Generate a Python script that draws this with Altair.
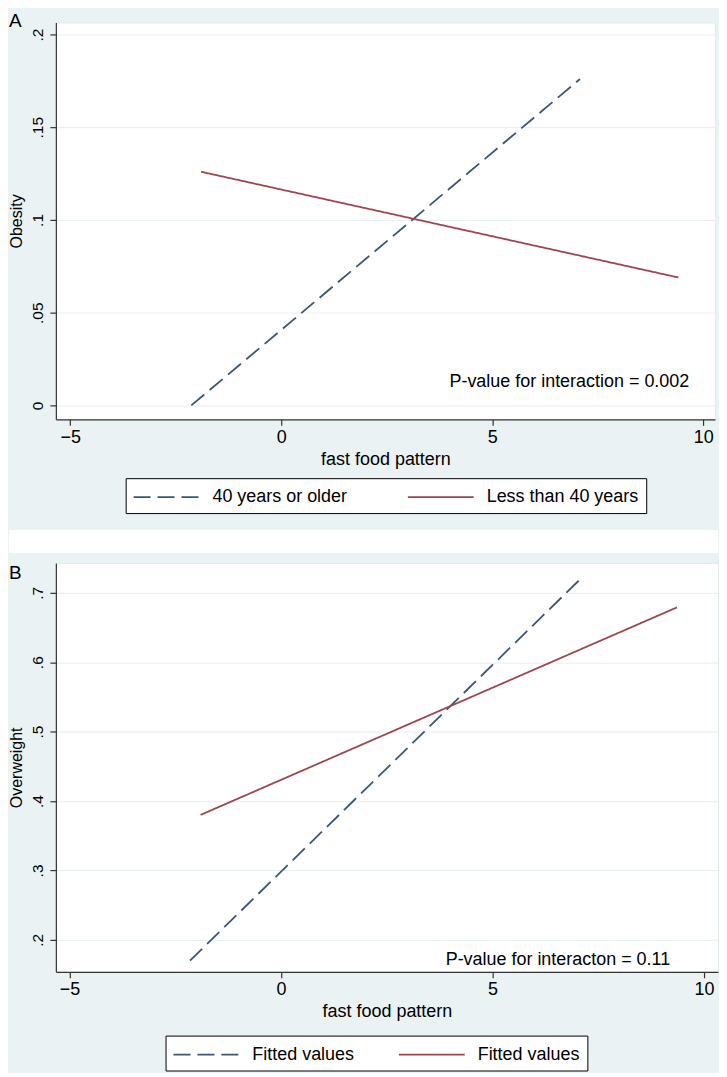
import altair as alt
import pandas as pd

FONT = "Liberation Sans"
BG = "#eaf2f3"
NAVY = "#3c5672"
MAROON = "#9b474d"
FS = 18

x_ticks = [-5, 0, 5, 10]

# Panel A (Obesity)
a_keys = ["40 years or older", "Less than 40 years"]
a_group = ["40 years or older", "40 years or older", "Less than 40 years", "Less than 40 years"]
a_x = [-2.13, 7.08, -1.9, 9.41]
a_y = [0.0, 0.176, 0.126, 0.069]
a_yticks = [0, 0.05, 0.1, 0.15, 0.2]
a_note = "P-value for interaction = 0.002"
a_note_x = 9.67
a_note_y = 0.0124

# Panel B (Overweight)
b_keys = ["fit_older", "fit_younger"]
b_group = ["fit_older", "fit_older", "fit_younger", "fit_younger"]
b_x = [-2.15, 7.08, -1.9, 9.36]
b_y = [0.17, 0.72, 0.38, 0.679]
b_yticks = [0.2, 0.3, 0.4, 0.5, 0.6, 0.7]
b_note = "P-value for interacton = 0.11"
b_note_x = 9.2
b_note_y = 0.171


def panel(letter, title_offset, ytitle, keys, groups, xs, ys, yticks, ydomain, xdomain,
          width, height, note, note_x, note_y, lx, ly, colpad, label_expr):
    df = pd.DataFrame({"group": groups, "x": xs, "y": ys})
    ndf = pd.DataFrame({"text": [note], "x": [note_x], "y": [note_y]})

    legend_kwargs = dict(
        title=None, orient="none", legendX=lx, legendY=ly,
        direction="horizontal", columns=2, symbolType="M-1,0L5,0",
        symbolSize=484, symbolStrokeWidth=1.8, labelFontSize=FS,
        labelFont=FONT, labelColor="black", strokeColor="black",
        fillColor="white", padding=7, columnPadding=colpad, labelOffset=56,
        labelLimit=400,
    )
    if label_expr:
        legend_kwargs["labelExpr"] = label_expr
    leg = alt.Legend(**legend_kwargs)

    xenc = alt.X("x:Q", scale=alt.Scale(domain=xdomain, nice=False, zero=False),
                 axis=alt.Axis(values=x_ticks, title="fast food pattern", grid=False,
                               labelFontSize=FS, titleFontSize=FS,
                               tickSize=6, labelPadding=3, titlePadding=4))
    yenc = alt.Y("y:Q", scale=alt.Scale(domain=ydomain, nice=False, zero=False),
                 axis=alt.Axis(values=yticks, title=ytitle, grid=True,
                               labelAngle=270, labelAlign="center", labelBaseline="bottom",
                               labelExpr="datum.value == 0 ? '0' : substring(format(datum.value, '.2~f'), 1)",
                               labelFontSize=15.5, titleFontSize=16,
                               tickSize=6, labelPadding=4, titlePadding=6))

    lines = alt.Chart(df).mark_line(strokeWidth=1.8).encode(
        x=xenc, y=yenc,
        color=alt.Color("group:N", scale=alt.Scale(domain=keys, range=[NAVY, MAROON]), legend=leg),
        strokeDash=alt.StrokeDash("group:N", scale=alt.Scale(domain=keys, range=[[17, 7], [1, 0]]), legend=leg),
    )
    text = alt.Chart(ndf).mark_text(align="right", baseline="middle", fontSize=FS,
                                    font=FONT, color="black").encode(
        x="x:Q", y="y:Q", text="text:N")
    return alt.layer(lines, text).properties(
        width=width, height=height,
        title=alt.TitleParams(text=letter, anchor="start", frame="bounds", fontSize=19,
                              fontWeight="normal", font=FONT, color="black",
                              offset=title_offset),
    )


pA = panel("A", -9, "Obesity", a_keys, a_group, a_x, a_y, a_yticks,
           [-0.0075, 0.2065], [-5.34, 10.28], 661, 398,
           a_note, a_note_x, a_note_y, 70, 457, 56, None)
pB = panel("B", -20, "Overweight", b_keys, b_group, b_x, b_y, b_yticks,
           [0.154, 0.743], [-5.32, 10.33], 664, 410,
           b_note, b_note_x, b_note_y, 110, 474, 40, "'Fitted values'")

# white separator band between the two panels (decoration, full width)
spacer = alt.Chart(pd.DataFrame({"v": [0]})).mark_rect(color="white", clip=False).encode(
    x=alt.value(-47), x2=alt.value(664), y=alt.value(15), y2=alt.value(38)
).properties(width=664, height=46, view=alt.ViewBackground(fill=BG, stroke=BG))

chart = alt.vconcat(pA, spacer, pB, spacing=0).resolve_scale(
    color="independent", strokeDash="independent", x="independent", y="independent"
).resolve_legend(color="independent", strokeDash="independent").properties(
    background=BG,
    padding={"left": 0, "top": 2, "right": 0, "bottom": 0},
).configure_view(fill="white", stroke="#e3ebed").configure_axis(
    domainColor="#333333", tickColor="#333333", labelColor="black", titleColor="black",
    labelFont=FONT, titleFont=FONT, titleFontWeight="normal", gridColor="#e6eef0",
    domainWidth=1.2, tickWidth=1.2,
)

chart.save("out.html", embed_options={"renderer": "svg", "actions": False})
